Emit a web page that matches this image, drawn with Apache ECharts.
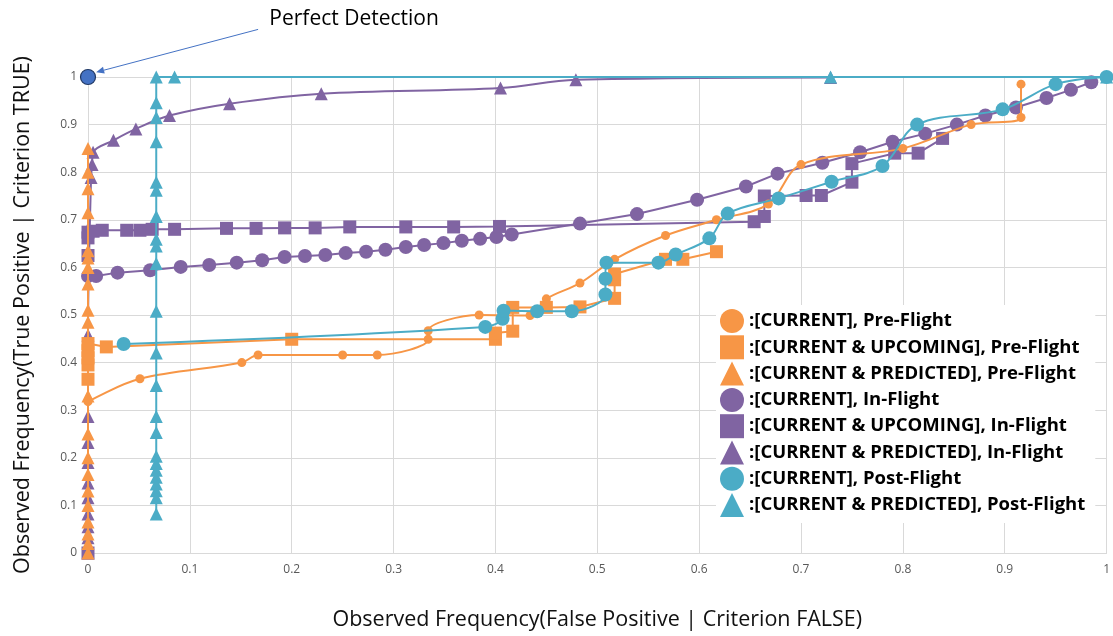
<!DOCTYPE html>
<html>
<head>
<meta charset="utf-8">
<script src="https://cdn.jsdelivr.net/npm/echarts@6/dist/echarts.min.js"></script>
<style>
  html, body { margin: 0; padding: 0; background: #fff; }
  #chart { width: 1113px; height: 636px; }
</style>
</head>
<body>
<div id="chart"></div>
<script>
// ROC-style curves: hit rate vs. false-alarm rate for each criterion / flight phase.
const tickLabels = ['0', '0.1', '0.2', '0.3', '0.4', '0.5', '0.6', '0.7', '0.8', '0.9', '1'];

const seriesNames = [
  ':[CURRENT], Pre-Flight',
  ':[CURRENT & UPCOMING], Pre-Flight',
  ':[CURRENT & PREDICTED], Pre-Flight',
  ':[CURRENT], In-Flight',
  ':[CURRENT & UPCOMING], In-Flight',
  ':[CURRENT & PREDICTED], In-Flight',
  ':[CURRENT], Post-Flight',
  ':[CURRENT & PREDICTED], Post-Flight'
];

// [false positive rate, true positive rate]
const preCurrent = [
  [0, 0.318], [0.051, 0.366], [0.151, 0.400], [0.167, 0.416], [0.250, 0.416], [0.284, 0.416],
  [0.334, 0.449], [0.334, 0.467], [0.384, 0.500], [0.434, 0.499], [0.450, 0.534], [0.483, 0.567],
  [0.517, 0.617], [0.567, 0.667], [0.617, 0.700], [0.668, 0.733], [0.700, 0.816], [0.800, 0.850],
  [0.867, 0.900], [0.916, 0.915], [0.916, 0.985]
];

const preUpcoming = [
  [0, 0.365], [0, 0.395], [0, 0.410], [0, 0.425], [0, 0.440], [0.018, 0.433], [0.200, 0.449],
  [0.400, 0.449], [0.400, 0.462], [0.417, 0.466], [0.417, 0.516], [0.450, 0.516], [0.483, 0.517],
  [0.517, 0.535], [0.517, 0.574], [0.517, 0.586], [0.567, 0.617], [0.584, 0.617], [0.617, 0.633]
];

const prePredicted = [
  [0, 0], [0, 0.020], [0, 0.040], [0, 0.065], [0, 0.100], [0, 0.130], [0, 0.165], [0, 0.200],
  [0, 0.250], [0, 0.330], [0, 0.485], [0, 0.510], [0, 0.565], [0, 0.600], [0, 0.620], [0, 0.635],
  [0, 0.715], [0, 0.765], [0, 0.800], [0, 0.850]
];

const inCurrent = [
  [0, 0.582], [0.008, 0.582], [0.029, 0.589], [0.061, 0.594], [0.091, 0.601], [0.119, 0.605],
  [0.146, 0.610], [0.171, 0.615], [0.193, 0.622], [0.213, 0.624], [0.233, 0.626], [0.253, 0.630],
  [0.273, 0.633], [0.292, 0.637], [0.312, 0.643], [0.330, 0.647], [0.349, 0.651], [0.367, 0.656],
  [0.385, 0.660], [0.401, 0.664], [0.416, 0.669], [0.483, 0.692], [0.539, 0.712], [0.598, 0.742],
  [0.646, 0.770], [0.677, 0.797], [0.721, 0.820], [0.758, 0.842], [0.790, 0.864], [0.822, 0.881],
  [0.853, 0.900], [0.881, 0.919], [0.911, 0.936], [0.941, 0.956], [0.965, 0.973], [0.985, 0.989]
];

const inUpcoming = [
  [0, 0], [0, 0.625], [0, 0.662], [0, 0.674], [0.005, 0.676], [0.014, 0.678], [0.038, 0.678],
  [0.051, 0.678], [0.063, 0.680], [0.085, 0.680], [0.136, 0.682], [0.165, 0.682], [0.193, 0.683],
  [0.223, 0.683], [0.257, 0.685], [0.312, 0.685], [0.359, 0.685], [0.404, 0.686], [0.654, 0.696],
  [0.664, 0.707], [0.664, 0.750], [0.705, 0.751], [0.720, 0.751], [0.750, 0.779], [0.750, 0.818],
  [0.792, 0.840], [0.815, 0.840], [0.839, 0.871]
];

const inPredicted = [
  [0, 0], [0, 0.032], [0, 0.055], [0, 0.082], [0, 0.116], [0, 0.147], [0, 0.190], [0, 0.232],
  [0, 0.287], [0, 0.458], [0.003, 0.789], [0.004, 0.816], [0.005, 0.842], [0.025, 0.867],
  [0.047, 0.891], [0.080, 0.919], [0.139, 0.944], [0.229, 0.965], [0.405, 0.977], [0.479, 0.994],
  [0.729, 0.999]
];

const postCurrent = [
  [0.035, 0.439], [0.390, 0.475], [0.407, 0.492], [0.408, 0.509], [0.441, 0.508], [0.475, 0.508],
  [0.508, 0.543], [0.508, 0.576], [0.509, 0.610], [0.560, 0.610], [0.577, 0.627], [0.610, 0.661],
  [0.628, 0.713], [0.678, 0.745], [0.730, 0.780], [0.780, 0.813], [0.814, 0.900], [0.898, 0.932],
  [0.950, 0.985], [1.000, 1.000]
];

const postPredicted = [
  [0.067, 0.082], [0.067, 0.116], [0.067, 0.131], [0.067, 0.145], [0.067, 0.159], [0.067, 0.174],
  [0.067, 0.188], [0.067, 0.203], [0.067, 0.253], [0.067, 0.287], [0.067, 0.352], [0.067, 0.420],
  [0.067, 0.508], [0.067, 0.608], [0.067, 0.645], [0.067, 0.659], [0.067, 0.707], [0.067, 0.762],
  [0.067, 0.779], [0.067, 0.864], [0.067, 0.915], [0.067, 0.946], [0.067, 1.000], [0.085, 1.000],
  [0.729, 1.000], [1.000, 1.000]
];

const perfectPoint = [[0, 1]];

// Callout for the ideal corner, in data units: text anchor, arrow tail, arrow head
const calloutText = 'Perfect Detection';
const calloutTextAt = [0.178, 1.121];
const calloutTail = [0.167, 1.100];
const calloutHead = [0.008, 1.010];

const ORANGE = '#F79646';
const PURPLE = '#8064A2';
const TEAL = '#4BACC6';

function curve(name, data, color, symbol, size, smooth, z) {
  return {
    name: name,
    type: 'line',
    data: data,
    smooth: smooth,
    symbol: symbol,
    symbolSize: size,
    clip: false,
    z: z,
    lineStyle: { color: color, width: 2 },
    itemStyle: { color: color, opacity: 1 },
    emphasis: { disabled: true },
    animation: false
  };
}

const chart = echarts.init(document.getElementById('chart'), null, { renderer: 'canvas' });

const option = {
  backgroundColor: '#fff',
  animation: false,
  grid: { left: 88, right: 6, top: 77, bottom: 71, containLabel: false },
  xAxis: {
    type: 'value', min: 0, max: 1, interval: 0.1,
    name: 'Observed Frequency(False Positive | Criterion FALSE)',
    nameLocation: 'middle', nameGap: 56,
    nameTextStyle: { fontFamily: 'Open Sans', fontSize: 21.5, color: '#111' },
    axisLine: { show: true, lineStyle: { color: '#d9d9d9', width: 1 } },
    axisTick: { show: false },
    splitLine: { show: true, lineStyle: { color: '#d9d9d9', width: 1 } },
    axisLabel: {
      color: '#595959', fontFamily: 'Open Sans', fontSize: 12, margin: 11,
      formatter: v => tickLabels[Math.round(v * 10)]
    }
  },
  yAxis: {
    type: 'value', min: 0, max: 1, interval: 0.1,
    name: 'Observed Frequency(True Positive | Criterion TRUE)',
    nameLocation: 'middle', nameGap: 54, nameRotate: 90,
    nameTextStyle: { fontFamily: 'Open Sans', fontSize: 21.5, color: '#111' },
    axisLine: { show: true, lineStyle: { color: '#d9d9d9', width: 1 } },
    axisTick: { show: false },
    splitLine: { show: true, lineStyle: { color: '#d9d9d9', width: 1 } },
    axisLabel: {
      color: '#595959', fontFamily: 'Open Sans', fontSize: 12, margin: 11,
      formatter: v => tickLabels[Math.round(v * 10)]
    }
  },
  legend: {
    orient: 'vertical',
    left: 716, top: 305,
    padding: [4, 10, 6, 4],
    backgroundColor: '#fff',
    itemWidth: 24, itemHeight: 24, itemGap: 2.3,
    selectedMode: false,
    textStyle: { fontFamily: 'Open Sans', fontWeight: 'bold', fontSize: 18.5, color: '#000' },
    data: [
      { name: seriesNames[0], icon: 'circle' },
      { name: seriesNames[1], icon: 'rect' },
      { name: seriesNames[2], icon: 'triangle' },
      { name: seriesNames[3], icon: 'circle' },
      { name: seriesNames[4], icon: 'rect' },
      { name: seriesNames[5], icon: 'triangle' },
      { name: seriesNames[6], icon: 'circle' },
      { name: seriesNames[7], icon: 'triangle' }
    ]
  },
  series: [
    curve(seriesNames[5], inPredicted, PURPLE, 'triangle', 13, 0.35, 2),
    curve(seriesNames[0], preCurrent, ORANGE, 'circle', 9, 0.35, 4),
    curve(seriesNames[1], preUpcoming, ORANGE, 'rect', 13, false, 4),
    curve(seriesNames[2], prePredicted, ORANGE, 'triangle', 13, false, 4),
    curve(seriesNames[3], inCurrent, PURPLE, 'circle', 14, false, 3),
    curve(seriesNames[4], inUpcoming, PURPLE, 'rect', 13, false, 3),
    curve(seriesNames[6], postCurrent, TEAL, 'circle', 14, 0.35, 5),
    curve(seriesNames[7], postPredicted, TEAL, 'triangle', 13, false, 5),
    {
      name: 'perfect',
      type: 'scatter',
      data: perfectPoint,
      symbol: 'circle',
      symbolSize: 15,
      clip: false,
      z: 6,
      itemStyle: { color: '#4472C4', borderColor: '#203864', borderWidth: 1.2, opacity: 1 },
      emphasis: { disabled: true }
    }
  ]
};

chart.setOption(option);

// Callout arrow and label, positioned through the axes
const toPx = p => chart.convertToPixel({ gridIndex: 0 }, p);
const tail = toPx(calloutTail);
const head = toPx(calloutHead);
const textAt = toPx(calloutTextAt);
const ang = Math.atan2(head[1] - tail[1], head[0] - tail[0]);
const hl = 8, hw = 3.5;
const bx = head[0] - hl * Math.cos(ang), by = head[1] - hl * Math.sin(ang);
const nx = -Math.sin(ang), ny = Math.cos(ang);

chart.setOption({
  graphic: [
    {
      type: 'line', silent: true, z: 10,
      shape: { x1: tail[0], y1: tail[1], x2: bx, y2: by },
      style: { stroke: '#4472C4', lineWidth: 1 }
    },
    {
      type: 'polygon', silent: true, z: 10,
      shape: { points: [[head[0], head[1]], [bx + nx * hw, by + ny * hw], [bx - nx * hw, by - ny * hw]] },
      style: { fill: '#4472C4' }
    },
    {
      type: 'text', silent: true, z: 10,
      x: textAt[0], y: textAt[1],
      style: {
        text: calloutText, fill: '#000', font: '21px "Open Sans"',
        textAlign: 'left', textVerticalAlign: 'middle'
      }
    }
  ]
});
</script>
</body>
</html>
